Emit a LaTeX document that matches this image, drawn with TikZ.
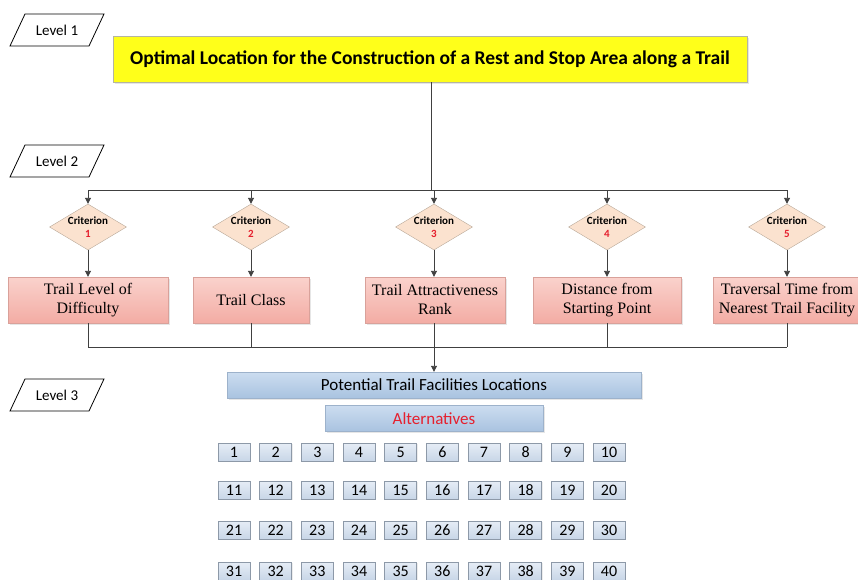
\documentclass[tikz,border=0pt]{standalone}
\usepackage{fontspec}
\setmainfont{Liberation Serif}
\newfontfamily\calibri{Carlito}
\definecolor{GoalYellow}{HTML}{FFFF1A}
\definecolor{GoalLine}{HTML}{B5B5A0}
\definecolor{DiamondFill}{HTML}{FBE2CF}
\definecolor{DiamondLine}{HTML}{B8A898}
\definecolor{CritTop}{HTML}{FAD2CC}
\definecolor{CritBottom}{HTML}{F3ACA4}
\definecolor{CritLine}{HTML}{D9A19A}
\definecolor{AltTop}{HTML}{CCDDF0}
\definecolor{AltBottom}{HTML}{A9C3E0}
\definecolor{AltLine}{HTML}{9DB2CB}
\definecolor{NumTop}{HTML}{E6EDF6}
\definecolor{NumBottom}{HTML}{C8D6E7}
\definecolor{NumLine}{HTML}{8D99A8}
\definecolor{LinkGray}{HTML}{404040}
\definecolor{MarkRed}{HTML}{E5202E}
\usetikzlibrary{arrows.meta, positioning, shapes.geometric, shadows}

\begin{document}
\begin{tikzpicture}[x=1pt, y=-1pt,
    levelbox/.style={minimum width=79pt, minimum height=32pt, inner sep=0pt,
      font=\calibri\fontsize{15}{17}\selectfont},
    levelline/.style={draw=black, line width=0.8pt},
    goal/.style={draw=GoalLine, fill=GoalYellow, minimum width=634pt, minimum height=46pt,
      font=\calibri\bfseries\fontsize{19.5}{22}\selectfont,
      drop shadow={opacity=0.2, shadow xshift=1.5pt, shadow yshift=-1.5pt}},
    crit/.style={draw=DiamondLine, fill=DiamondFill, diamond, minimum width=77pt,
      minimum height=46pt, inner sep=-6pt, align=center,
      font=\calibri\bfseries\fontsize{11}{13}\selectfont},
    factor/.style={draw=CritLine, top color=CritTop, bottom color=CritBottom,
      minimum height=46pt, inner sep=1pt, align=center,
      font=\fontsize{16}{19}\selectfont,
      drop shadow={opacity=0.2, shadow xshift=1.5pt, shadow yshift=-1.5pt}},
    alt/.style={draw=AltLine, top color=AltTop, bottom color=AltBottom,
      minimum height=26pt, inner sep=0pt, font=\calibri\fontsize{17}{19}\selectfont,
      drop shadow={opacity=0.2, shadow xshift=1.5pt, shadow yshift=-1.5pt}},
    num/.style={draw=NumLine, top color=NumTop, bottom color=NumBottom,
      minimum width=32pt, minimum height=18pt, inner sep=0pt,
      font=\calibri\fontsize{16}{18}\selectfont,
      drop shadow={opacity=0.15, shadow xshift=1pt, shadow yshift=-1pt}},
    link/.style={LinkGray, line width=0.9pt},
    arr/.style={-{Triangle[length=6pt, width=6pt]}, LinkGray, line width=0.9pt}
  ]
  \useasboundingbox (0,0) rectangle (858,579);

  % levels
  \node[levelbox] (lv1) at (57,30) {Level 1};
  \node[levelbox] (lv2) at (57,161) {Level 2};
  \node[levelbox] (lv3) at (57,395) {Level 3};
  \foreach \l in {lv1,lv2,lv3}
    \draw[levelline] (\l.center) ++(-47,16) -- ++(15,-32) -- ++(79,0) -- ++(-15,32) -- cycle;

  % goal
  \node[goal] (goal) at (430,59) {Optimal Location for the Construction of a Rest and Stop Area along a Trail};

  % criteria
  \node[crit] (d1) at (88,227) {Criterion\\\textcolor{MarkRed}{1}};
  \node[crit] (d2) at (251,227) {Criterion\\\textcolor{MarkRed}{2}};
  \node[crit] (d3) at (434,227) {Criterion\\\textcolor{MarkRed}{3}};
  \node[crit] (d4) at (607,227) {Criterion\\\textcolor{MarkRed}{4}};
  \node[crit] (d5) at (787,227) {Criterion\\\textcolor{MarkRed}{5}};

  \node[factor, minimum width=160pt] (f1) at (88,300) {Trail Level of\\Difficulty};
  \node[factor, minimum width=116pt] (f2) at (251,300) {Trail Class};
  \node[factor, minimum width=140pt] (f3) at (435,300) {Trail Attractiveness\\Rank};
  \node[factor, minimum width=148pt] (f4) at (607,300) {Distance from\\Starting Point};
  \node[factor, minimum width=148pt] (f5) at (787,300) {Traversal Time from\\Nearest Trail Facility};

  % alternatives
  \node[alt, minimum width=414pt] (pot) at (434,385) {Potential Trail Facilities Locations};
  \node[alt, minimum width=218pt, below=7pt of pot] (alts) {\textcolor{MarkRed}{Alternatives}};

  \foreach \r/\yy in {0/452, 1/490, 2/530, 3/571} {
    \foreach \c in {0,...,9} {
      \pgfmathtruncatemacro{\n}{10*\r+\c+1}
      \node[num] (a\n) at (234+41.67*\c,\yy) {\n};
    }
  }

  % connectors
  \coordinate (busA) at (431,190);
  \coordinate (busB) at (434,347);
  \draw[link] (goal.south -| busA) -- (busA);
  \draw[link] (busA -| d1) -- (busA -| d5);
  \foreach \i in {1,...,5} {
    \draw[arr] (busA -| d\i) -- (d\i.north);
    \draw[arr] (d\i.south) -- (d\i.south |- f\i.north);
    \draw[link] (f\i.south -| d\i) -- (busB -| d\i);
  }
  \draw[link] (busB -| d1) -- (busB -| d5);
  \draw[arr] (busB) -- (pot.north);
\end{tikzpicture}
\end{document}
